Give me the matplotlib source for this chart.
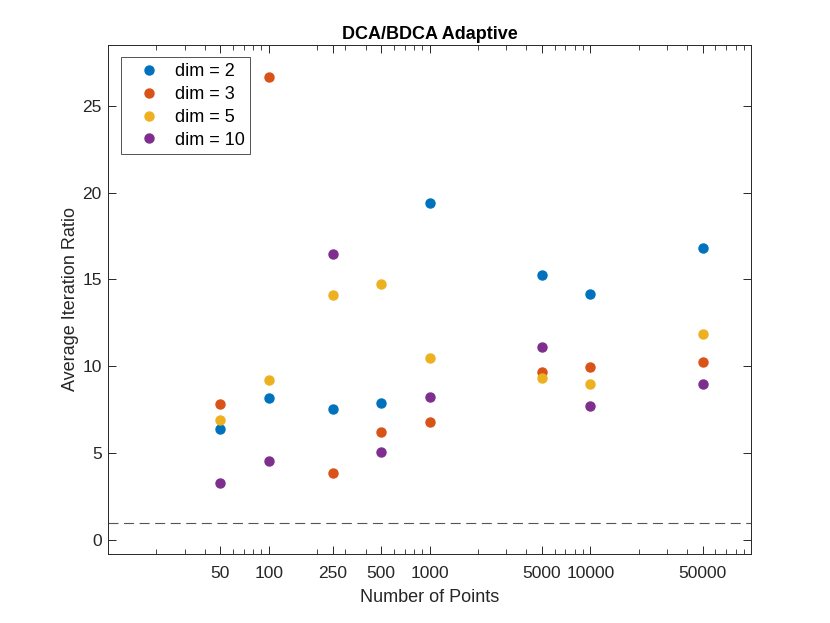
import numpy as np
import matplotlib
matplotlib.use('Agg')
import matplotlib.pyplot as plt
from matplotlib.ticker import LogLocator, NullFormatter

plt.rcParams['font.family'] = ['Liberation Sans', 'DejaVu Sans']

points = [50, 100, 250, 500, 1000, 5000, 10000, 50000]
dim2 = [6.39, 8.18, 7.55, 7.89, 19.41, 15.27, 14.17, 16.82]
dim3 = [7.83, 26.67, 3.86, 6.22, 6.80, 9.68, 9.97, 10.25]
dim5 = [6.91, 9.22, 14.11, 14.75, 10.48, 9.33, 8.99, 11.87]
dim10 = [3.28, 4.55, 16.47, 5.07, 8.24, 11.12, 7.72, 8.99]
labels = ['dim = 2', 'dim = 3', 'dim = 5', 'dim = 10']
colors = ['#0072BD', '#D95319', '#EDB120', '#7E2F8E']
ref_level = 1

fig = plt.figure(figsize=(8.3, 6.23), dpi=100)
ax = fig.add_axes([0.13, 0.111, 0.775, 0.817])

for ys, lab, c in zip([dim2, dim3, dim5, dim10], labels, colors):
    ax.plot(points, ys, 'o', color=c, markersize=6.5, label=lab)

ax.axhline(ref_level, color='#555555', linestyle=(0, (9, 5)), linewidth=0.8)

ax.set_xscale('log')
ax.set_xlim(10, 1e5)
ax.set_ylim(-0.8, 28.5)
ax.set_xticks(points)
ax.set_xticklabels([str(p) for p in points])
ax.xaxis.set_minor_locator(LogLocator(base=10, subs=np.arange(2, 10)))
ax.xaxis.set_minor_formatter(NullFormatter())
ax.set_yticks([0, 5, 10, 15, 20, 25])

edge = '#262626'
for s in ax.spines.values():
    s.set_color(edge)
    s.set_linewidth(0.7)
ax.tick_params(which='both', direction='in', top=True, right=True,
               colors=edge, labelcolor=edge, labelsize=12.5)
ax.tick_params(which='major', length=6, width=0.7)
ax.tick_params(which='minor', length=3.5, width=0.6)
ax.tick_params(axis='x', which='major', pad=8.5)
ax.tick_params(axis='y', which='major', pad=4.5)

ax.set_xlabel('Number of Points', fontsize=13, color=edge, labelpad=6)
ax.set_ylabel('Average Iteration Ratio', fontsize=13, color=edge, labelpad=2.5)
ax.set_title('DCA/BDCA Adaptive', fontsize=13, fontweight='bold', color='black', pad=4.5)

leg = ax.legend(loc='upper left', fontsize=13, frameon=True, fancybox=False,
                borderaxespad=0.7, handlelength=2.6, handletextpad=0.12,
                borderpad=0.3, labelspacing=0.33)
leg.get_frame().set_edgecolor(edge)
leg.get_frame().set_linewidth(0.7)

fig.savefig('out.png', dpi=100)
